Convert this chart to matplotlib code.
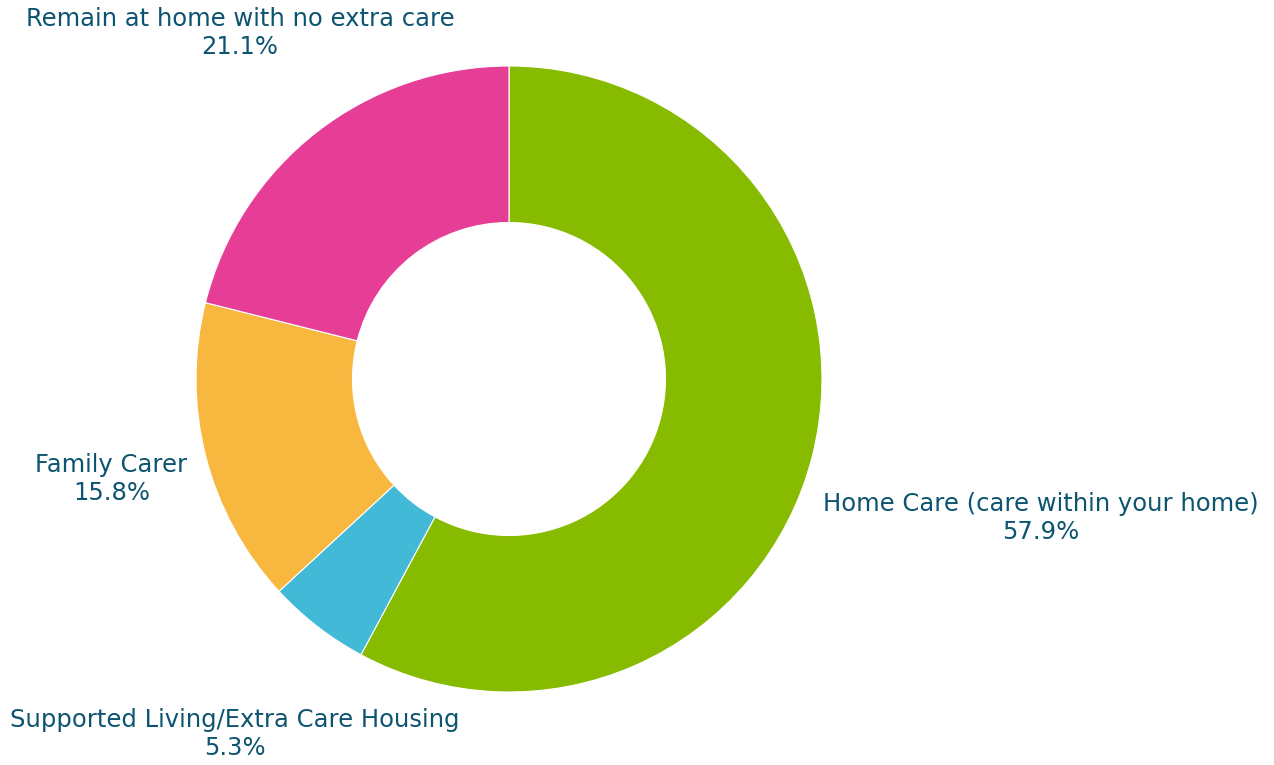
import matplotlib
matplotlib.use("Agg")
import matplotlib.pyplot as plt
import numpy as np

categories = ["Home Care (care within your home)", "Supported Living/Extra Care Housing",
              "Family Carer", "Remain at home with no extra care"]
values = [57.9, 5.3, 15.8, 21.1]
colors = ["#86bb00", "#43b9d8", "#f8b83f", "#e63e97"]
label_pos = [(1.70, -0.445), (-0.875, -1.135), (-1.27, -0.32), (-0.86, 1.105)]

W, H = 1274, 765
fig = plt.figure(figsize=(W / 100, H / 100), dpi=100)
cx, cy, r = 509, 379, 313
ax = fig.add_axes([(cx - r) / W, (H - cy - r) / H, 2 * r / W, 2 * r / H])
ax.pie(values, colors=colors, startangle=90, counterclock=False, radius=1,
       wedgeprops=dict(width=0.5, edgecolor="white", linewidth=0.8))
ax.set_xlim(-1, 1)
ax.set_ylim(-1, 1)
ax.set_aspect("equal")
ax.axis("off")

tc = "#0d5470"
for cat, v, (x, y) in zip(categories, values, label_pos):
    ax.text(x, y, f"{cat}\n{v:.1f}%", ha="center", va="center", color=tc,
            fontsize=17.5, family="DejaVu Sans", linespacing=1.2, clip_on=False)

fig.savefig("out.png", dpi=100)
